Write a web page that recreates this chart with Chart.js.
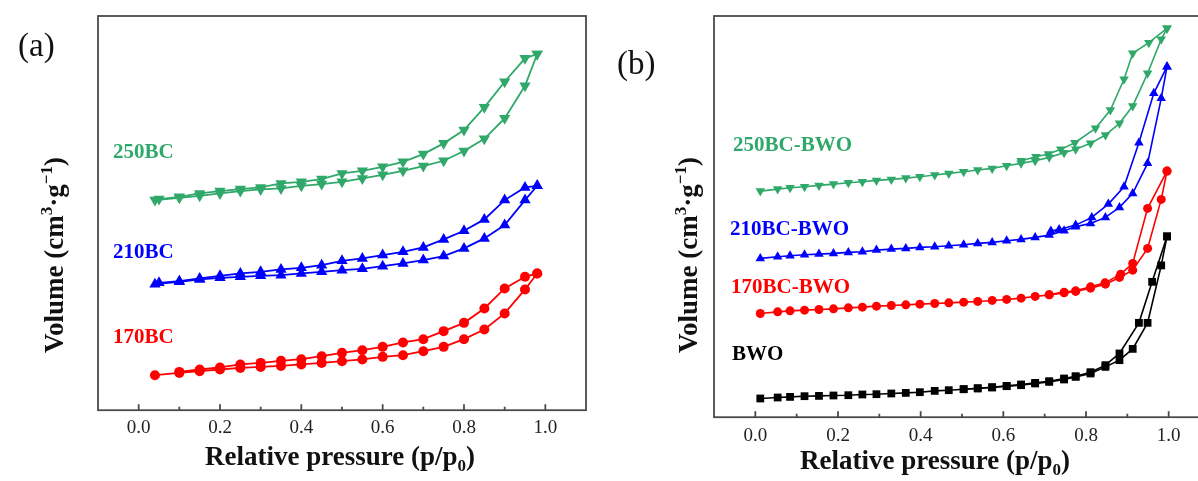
<!DOCTYPE html>
<html>
<head>
<meta charset="utf-8">
<script src="https://cdn.jsdelivr.net/npm/chart.js@4.4.1/dist/chart.umd.min.js"></script>
<style>
  html, body { margin: 0; padding: 0; background: #fff; overflow: hidden; }
  #wrap { position: relative; width: 1198px; height: 481px; overflow: hidden; }
  #chart-a { position: absolute; left: 0; top: 0; }
  #chart-b { position: absolute; left: 600px; top: 0; }
</style>
</head>
<body>
<div id="wrap">
  <canvas id="chart-a" width="600" height="481"></canvas>
  <canvas id="chart-b" width="640" height="481"></canvas>
</div>
<script>
// x tick labels (both panels)
const xTicks = [0, 0.2, 0.4, 0.6, 0.8, 1.0];

// ---- panel (a) : pressures
const pA_ads = [0.04, 0.10, 0.15, 0.20, 0.25, 0.30, 0.35, 0.40, 0.45, 0.50, 0.55, 0.60, 0.65, 0.70, 0.75, 0.80, 0.85, 0.90, 0.95, 0.98];
const pA_des = [0.98, 0.95, 0.90, 0.85, 0.80, 0.75, 0.70, 0.65, 0.60, 0.55, 0.50, 0.45, 0.40, 0.35, 0.30, 0.25, 0.20, 0.15, 0.10, 0.05];

// panel (a) volumes (arbitrary units, y axis is unlabeled)
const bc250_ads = [210, 212.3, 214.3, 216.7, 219, 220.7, 221.7, 224.3, 226, 228.3, 231.7, 235.3, 239.3, 244, 249.3, 259, 271.3, 291.7, 324.3, 356];
const bc250_des = [356, 351.7, 328.3, 302.7, 280, 266.7, 256, 248.3, 243.3, 239.3, 236.7, 231, 228.3, 226.7, 222.7, 221, 219, 216.7, 213.3, 211];
const bc210_ads = [126, 128.3, 130.7, 132.3, 133.3, 134.3, 135, 136.7, 138.3, 140, 141.3, 144, 146.7, 150, 154, 161.7, 171.7, 185, 210, 224.3];
const bc210_des = [224.3, 222.7, 210, 190.7, 179.3, 170.7, 162.7, 158.3, 155, 151.7, 149.3, 145, 142.3, 140.7, 138.3, 136.7, 134.3, 131.7, 129, 127.3];
const bc170_ads = [35, 37.3, 39, 40.7, 42.3, 43.3, 44.3, 45.7, 47.3, 49, 50.7, 53.3, 55, 59, 63.3, 71, 80.7, 96.7, 120.7, 136.7];
const bc170_des = [136.7, 133.3, 121.7, 101.7, 87.3, 79, 71, 67.7, 63.3, 60, 57.3, 54, 51, 49.3, 47.3, 45.7, 42.7, 40.7, 38.3];

// ---- panel (b) : pressures
const pB_ads = [0.012, 0.054, 0.084, 0.119, 0.154, 0.189, 0.225, 0.259, 0.293, 0.329, 0.364, 0.398, 0.434, 0.468, 0.504, 0.538, 0.573, 0.608, 0.643, 0.677, 0.711, 0.747, 0.775, 0.811, 0.847, 0.881, 0.913, 0.949, 0.982, 0.996];

const bwo_ads = [18.7, 19.7, 20.3, 21, 21.3, 21.7, 22, 22.7, 23, 23.7, 24.3, 25, 26.3, 27, 28, 28.7, 29.7, 31, 32, 33.7, 35.3, 37.7, 40.3, 43.7, 50.3, 57, 68.3, 94.3, 151.7, 180.7];
const bwo_desP = [0.996, 0.96, 0.928, 0.881, 0.847, 0.811, 0.775, 0.747, 0.711, 0.677, 0.643, 0.608, 0.573, 0.538, 0.504];
const bwo_des = [180.7, 135.3, 94.3, 63.7, 52, 45, 41, 38.7, 36, 34.3, 32.7, 31.3, 30, 29, 28];

const bwo170_ads = [103.7, 105.3, 106.3, 107, 107.7, 108.3, 109.3, 110, 111, 111.7, 112.3, 113, 113.7, 114.3, 115, 115.7, 116.7, 117.7, 119, 120.7, 122.3, 124.3, 125.7, 129, 133, 139.7, 147, 168.7, 217.7, 246];
const bwo170_desP = [0.996, 0.949, 0.913, 0.884, 0.846, 0.811, 0.775, 0.747, 0.711];
const bwo170_des = [246, 208.7, 153.7, 143, 134.3, 130.3, 126.3, 125, 122.5];

const bwo210_ads = [158.7, 160.3, 161.3, 162.3, 163, 163.7, 164.7, 165.3, 167, 168, 168.7, 169.7, 170.3, 171.3, 172.3, 173.7, 174.7, 176.3, 177.7, 179.7, 182, 186.3, 190.3, 193.7, 199.7, 209.7, 223.7, 253.7, 318.7, 350.3];
const bwo210_desP = [0.996, 0.964, 0.928, 0.892, 0.854, 0.814, 0.775, 0.735, 0.715];
const bwo210_des = [350.3, 323.7, 274.3, 230.3, 213, 199.7, 192, 187.7, 186];

const bwo250_ads = [226, 228, 229.3, 230.3, 231.7, 233, 234.3, 235.3, 236.7, 237.7, 239, 240.3, 242, 243.7, 245.3, 247, 248.7, 251.3, 253.7, 256.3, 259.7, 264.3, 267.7, 273.7, 282, 293.7, 311, 343.7, 377.7, 388.7];
const bwo250_desP = [0.996, 0.952, 0.913, 0.892, 0.859, 0.823, 0.773, 0.739, 0.709, 0.679, 0.643];
const bwo250_des = [388.7, 374.3, 363.7, 337.7, 307, 288.7, 274.3, 267.7, 263, 260.3, 256.3];

const GREEN = '#2fa86a';
const BLUE = '#0000ff';
const RED = '#ff0000';
const BLACK = '#000000';
const FRAME = '#4a4a4a';
const SERIF = '"Liberation Serif", "Times New Roman", serif';

function pts(xs, ys) {
  const out = [];
  for (let i = 0; i < ys.length; i++) {
    out.push({ x: xs[i], y: ys[i] });
  }
  return out;
}

function series(xs, ys, color, style, radius, rot, lw) {
  return {
    data: pts(xs, ys),
    showLine: true,
    borderColor: color,
    backgroundColor: color,
    borderWidth: lw || 1.6,
    pointStyle: style,
    pointRadius: radius,
    pointRotation: rot || 0,
    pointBorderWidth: 0,
    pointHoverRadius: radius,
    clip: false
  };
}

// draws the sub/superscript text pieces from left to right
function drawParts(ctx, parts, x, y, size) {
  let cx = x;
  parts.forEach(function(p) {
    const s = p.small ? Math.round(size * 0.62) : size;
    ctx.font = 'bold ' + s + 'px ' + SERIF;
    ctx.fillText(p.t, cx, y + (p.dy || 0));
    cx += ctx.measureText(p.t).width;
  });
}

function partsWidth(ctx, parts, size) {
  let w = 0;
  parts.forEach(function(p) {
    const s = p.small ? Math.round(size * 0.62) : size;
    ctx.font = 'bold ' + s + 'px ' + SERIF;
    w += ctx.measureText(p.t).width;
  });
  return w;
}

const xTitle = [{ t: 'Relative pressure (p/p' }, { t: '0', small: true, dy: 6 }, { t: ')' }];
const yTitle = [{ t: 'Volume (cm' }, { t: '3', small: true, dy: -11 }, { t: '\u00b7g' }, { t: '\u22121', small: true, dy: -11 }, { t: ')' }];

function framePlugin(opt) {
  return {
    id: 'frame',
    afterDraw(chart) {
      const ctx = chart.ctx;
      const a = chart.chartArea;
      const x = chart.scales.x;
      ctx.save();
      ctx.strokeStyle = FRAME;
      ctx.lineWidth = 1.8;
      ctx.strokeRect(a.left, a.top, a.right - a.left, a.bottom - a.top);
      // inward ticks
      for (let r = 0; r <= 10; r++) {
        const px = x.getPixelForValue(r / 10);
        const len = r % 2 === 0 ? 6 : 3.5;
        ctx.beginPath();
        ctx.moveTo(px, a.bottom);
        ctx.lineTo(px, a.bottom - len);
        ctx.stroke();
      }
      ctx.fillStyle = '#111';
      ctx.textBaseline = 'alphabetic';
      // x title
      const w = partsWidth(ctx, xTitle, 27);
      drawParts(ctx, xTitle, opt.xTitleX - w / 2, opt.xTitleY, 27);
      // y title (rotated)
      ctx.save();
      ctx.translate(opt.yTitleX, opt.yTitleY);
      ctx.rotate(-Math.PI / 2);
      const wy = partsWidth(ctx, yTitle, 27);
      drawParts(ctx, yTitle, -wy / 2, 0, 27);
      ctx.restore();
      // panel letter
      ctx.font = '33px ' + SERIF;
      ctx.textBaseline = 'middle';
      ctx.fillStyle = '#111';
      ctx.fillText(opt.letter, opt.letterX, opt.letterY);
      // series labels
      ctx.font = 'bold 21px ' + SERIF;
      opt.labels.forEach(function(l) {
        ctx.fillStyle = l.color;
        ctx.fillText(l.text, l.x, l.y);
      });
      ctx.restore();
    }
  };
}

function makeChart(id, datasets, yMax, pad, tickPad, plug) {
  const ctx = document.getElementById(id).getContext('2d');
  return new Chart(ctx, {
    type: 'scatter',
    data: { datasets: datasets },
    options: {
      responsive: false,
      animation: false,
      events: [],
      layout: { padding: pad },
      plugins: { legend: { display: false }, tooltip: { enabled: false } },
      scales: {
        x: {
          type: 'linear',
          min: -0.1,
          max: 1.1,
          grid: { display: false, drawTicks: false },
          border: { display: false },
          afterBuildTicks: function(s) {
            s.ticks = xTicks.map(function(v) { return { value: v }; });
          },
          ticks: {
            padding: tickPad,
            color: '#222',
            font: { family: SERIF, size: 19 },
            callback: function(v) { return Number(v).toFixed(1); }
          }
        },
        y: { display: false, min: 0, max: yMax }
      }
    },
    plugins: [plug]
  });
}

makeChart('chart-a', [
  series(pA_ads, bc250_ads, GREEN, 'triangle', 6.5, 180, 1.8),
  series(pA_des, bc250_des, GREEN, 'triangle', 6.5, 180, 1.8),
  series(pA_ads, bc210_ads, BLUE, 'triangle', 6.5, 0, 1.8),
  series(pA_des, bc210_des, BLUE, 'triangle', 6.5, 0, 1.8),
  series(pA_ads, bc170_ads, RED, 'circle', 5, 0, 1.8),
  series(pA_des, bc170_des, RED, 'circle', 5, 0, 1.8)
], 394, { left: 98, top: 16, right: 14, bottom: 36 }, 6, framePlugin({
  xTitleX: 340, xTitleY: 465,
  yTitleX: 63, yTitleY: 255,
  letter: '(a)', letterX: 18, letterY: 47,
  labels: [
    { text: '250BC', color: GREEN, x: 113, y: 153 },
    { text: '210BC', color: BLUE, x: 113, y: 253 },
    { text: '170BC', color: RED, x: 113, y: 338 }
  ]
}));

makeChart('chart-b', [
  series(pB_ads, bwo250_ads, GREEN, 'triangle', 5.5, 180),
  series(bwo250_desP, bwo250_des, GREEN, 'triangle', 5.5, 180),
  series(pB_ads, bwo210_ads, BLUE, 'triangle', 5.5),
  series(bwo210_desP, bwo210_des, BLUE, 'triangle', 5.5),
  series(pB_ads, bwo170_ads, RED, 'circle', 4.5),
  series(bwo170_desP, bwo170_des, RED, 'circle', 4.5),
  series(pB_ads, bwo_ads, BLACK, 'rect', 5.5),
  series(bwo_desP, bwo_des, BLACK, 'rect', 5.5)
], 401, { left: 114, top: 16, right: 30, bottom: 27 }, 7, framePlugin({
  xTitleX: 335, xTitleY: 469,
  yTitleX: 97, yTitleY: 255,
  letter: '(b)', letterX: 17, letterY: 65,
  labels: [
    { text: '250BC-BWO', color: GREEN, x: 133, y: 146 },
    { text: '210BC-BWO', color: BLUE, x: 130, y: 230 },
    { text: '170BC-BWO', color: RED, x: 131, y: 288 },
    { text: 'BWO', color: BLACK, x: 132, y: 355 }
  ]
}));
</script>
</body>
</html>
